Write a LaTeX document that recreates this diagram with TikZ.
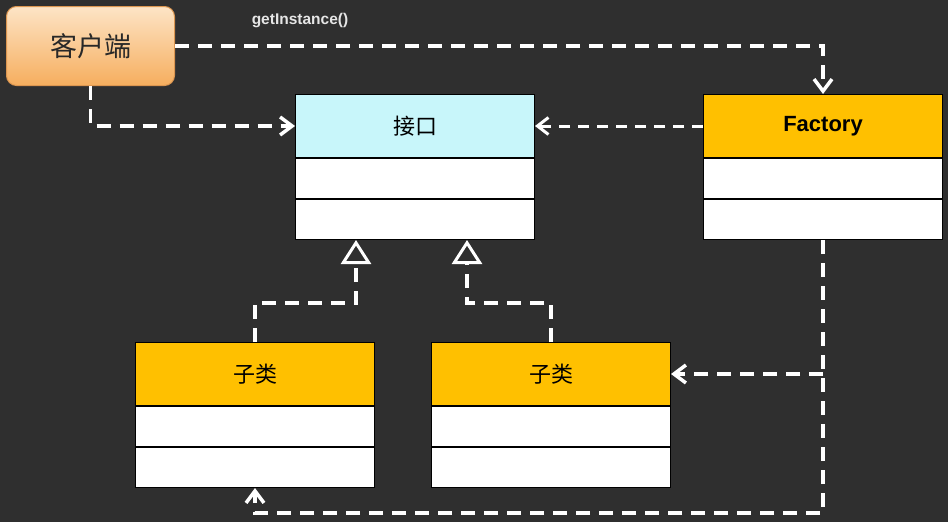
\documentclass[tikz,border=0pt]{standalone}
\usepackage{fontspec}
\setmainfont{Liberation Sans}
\newfontfamily\cjk{Noto Sans CJK SC}
\usetikzlibrary{arrows.meta,calc}
\definecolor{bg}{HTML}{2F2F2F}
\definecolor{cyanhdr}{HTML}{C8F6FA}
\definecolor{orghdr}{HTML}{FFC000}
\definecolor{peachtop}{HTML}{FDE4C6}
\definecolor{peachbot}{HTML}{F6AE5E}
\tikzset{
  hdr/.style={draw=black, line width=1pt, minimum width=239pt, minimum height=63pt, inner sep=0pt, anchor=north west},
  row/.style={draw=black, fill=white, line width=1pt, minimum width=239pt, minimum height=40pt, inner sep=0pt, anchor=north},
  dep/.style={draw=white, line width=3.5pt, dash pattern=on 14pt off 9pt, -{Straight Barb[length=12pt,width=18pt,line width=3.5pt]}},
  depthin/.style={draw=white, line width=3pt, dash pattern=on 11pt off 8pt, -{Straight Barb[length=11pt,width=17pt,line width=3pt]}},
  inh/.style={draw=white, line width=3.5pt, dash pattern=on 14pt off 9pt, -{Triangle[open, length=24pt, width=30pt, line width=3pt, fill=bg]}},
  cjklabel/.style={font=\cjk\fontsize{22}{26}\selectfont, text=black},
}
\begin{document}
\begin{tikzpicture}[x=1pt,y=-1pt]
\fill[bg] (0,0) rectangle (948,522);
\useasboundingbox (0,0) rectangle (948,522);

% client
\node[draw={rgb,255:red,220;green,150;blue,80}, line width=1pt, rounded corners=10pt, top color=peachtop, bottom color=peachbot,
  minimum width=168pt, minimum height=79pt, anchor=north west, inner sep=0pt,
  font=\cjk\fontsize{27}{32}\selectfont, text={rgb,255:red,40;green,40;blue,40}] (cl) at (6,6) {客户端};

% interface
\node[hdr, fill=cyanhdr, cjklabel] (ih) at (295,94) {接口};
\node[row] (ir1) at (ih.south) {};
\node[row] (ir2) at (ir1.south) {};

% factory
\node[hdr, fill=orghdr, font=\bfseries\fontsize{22}{26}\selectfont, text=black] (fh) at (703,94) {\raisebox{-2pt}{Factory}};
\node[row] (fr1) at (fh.south) {};
\node[row] (fr2) at (fr1.south) {};

% subclass 1
\node[hdr, fill=orghdr, cjklabel] (s1h) at (135,342) {子类};
\node[row] (s1r1) at (s1h.south) {};
\node[row] (s1r2) at (s1r1.south) {};

% subclass 2
\node[hdr, fill=orghdr, cjklabel] (s2h) at (431,342) {子类};
\node[row] (s2r1) at (s2h.south) {};
\node[row] (s2r2) at (s2r1.south) {};

% label
\node[font=\bfseries\fontsize{15.5}{18}\selectfont, text={rgb,255:red,230;green,230;blue,230}] (gi) at (300,21) {getInstance()};

% connectors
\draw[dep] (cl.east) -| (fh.north);
\draw[dep] (cl.south) |- (ih.west);
\draw[depthin] (fh.west) -- (ih.east);

\coordinate (t1) at ($(ir2.south west)+(61,0)$);
\coordinate (t2) at ($(ir2.south west)+(172,0)$);
\draw[inh] (s1h.north) |- ($(t1)+(0,63)$) -- (t1);
\draw[inh] (s2h.north) |- ($(t2)+(0,63)$) -- (t2);

\coordinate (fb) at ($(fr2.south)+(0,273)$);
\draw[dep] (fr2.south) -- (fb) -| (s1r2.south);
\coordinate (j) at (fr2.south |- s2h.east);
\draw[dep] (j) -- (s2h.east);
\end{tikzpicture}
\end{document}
